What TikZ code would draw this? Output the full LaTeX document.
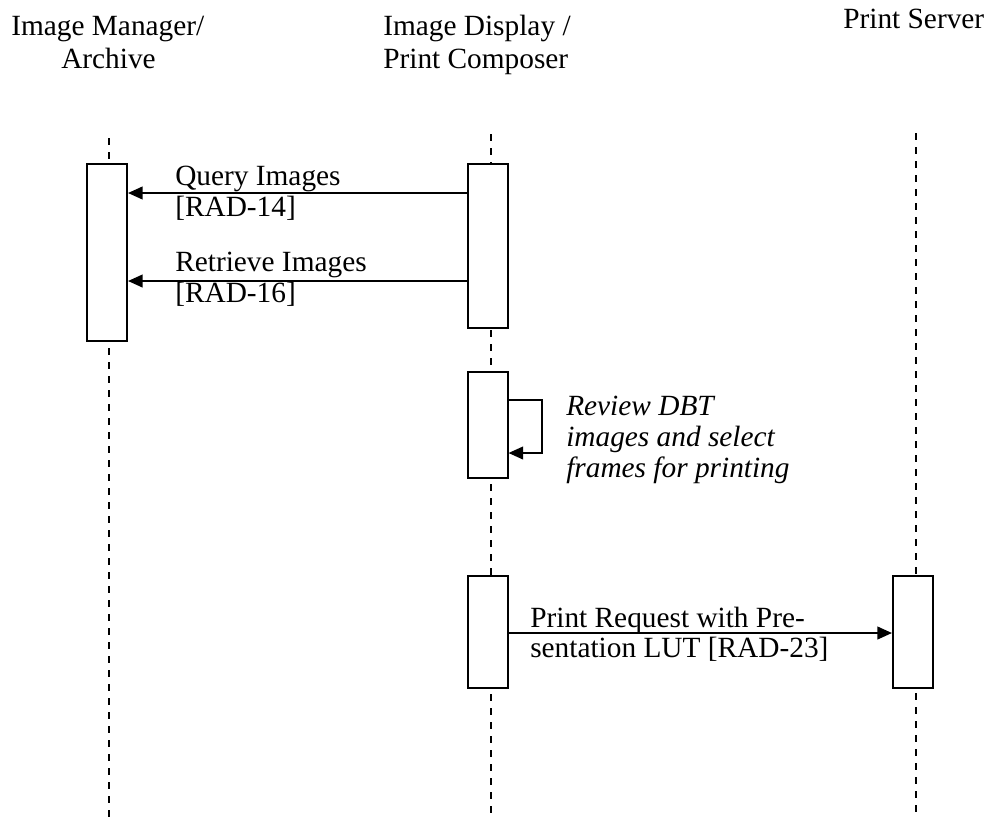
\documentclass[tikz,border=0pt]{standalone}
\usepackage{fontspec}
\setmainfont{Liberation Serif}
\usetikzlibrary{arrows.meta}
\begin{document}
\begin{tikzpicture}[x=0.75pt,y=-0.75pt,
  lifeline/.style={line width=1.5pt,dash pattern=on 5.25pt off 5.25pt},
  actbox/.style={draw,line width=1.5pt,fill=white,rectangle,minimum width=30pt,inner sep=0pt},
  msg/.style={line width=1.6pt,-{Triangle[length=11pt,width=9.5pt]}},
  lbl/.style={anchor=base west,inner sep=0pt,font=\fontsize{22}{26}\selectfont},
  ilbl/.style={lbl,font=\fontsize{22}{26}\selectfont\itshape}]
\useasboundingbox (0,0) rectangle (987,819);
% headers
\node[lbl] (h1a) at (11,35) {Image Manager/};
\node[lbl] (h1b) at (61,68) {Archive};
\node[lbl] (h2a) at (383,35) {Image Display /};
\node[lbl] (h2b) at (383,68) {Print Composer};
\node[lbl] (h3) at (843,28) {Print Server};
% lifelines
\coordinate (la1) at (109,138); \coordinate (la2) at (109,819);
\coordinate (lc1) at (491,134); \coordinate (lc2) at (491,819);
\coordinate (ls1) at (916,133); \coordinate (ls2) at (916,813);
\draw[lifeline] (la1) -- (la2);
\draw[lifeline] (lc1) -- (lc2);
\draw[lifeline] (ls1) -- (ls2);
% activation boxes
\node[actbox,minimum height=132.75pt] (a1) at (107,252.5) {};
\node[actbox,minimum height=123pt] (c1) at (487.5,246) {};
\node[actbox,minimum height=79.5pt] (c2) at (487.5,425) {};
\node[actbox,minimum height=84pt] (c3) at (487.5,632) {};
\node[actbox,minimum height=84pt] (s1) at (913,632) {};
% messages
\coordinate (yq) at (0,193);
\coordinate (yr) at (0,281);
\coordinate (yp) at (0,633);
\draw[msg] (c1.west |- yq) -- (a1.east |- yq);
\draw[msg] (c1.west |- yr) -- (a1.east |- yr);
\draw[msg] (c3.east |- yp) -- (s1.west |- yp);
\coordinate (lp1) at (542,400);
\coordinate (lp2) at (542,453);
\draw[msg] (c2.east |- lp1) -- (lp1) -- (lp2) -- (c2.east |- lp2);
% labels
\node[lbl] (q1) at (175,185) {Query Images};
\node[lbl] (q2) at (175,216) {[RAD-14]};
\node[lbl] (r1) at (175,271) {Retrieve Images};
\node[lbl] (r2) at (175,302) {[RAD-16]};
\node[ilbl] (v1) at (566,415) {Review DBT};
\node[ilbl] (v2) at (566,446) {images and select};
\node[ilbl] (v3) at (566,477) {frames for printing};
\node[lbl] (p1) at (530,627) {Print Request with Pre-};
\node[lbl] (p2) at (530,657) {sentation LUT [RAD-23]};
\end{tikzpicture}
\end{document}
